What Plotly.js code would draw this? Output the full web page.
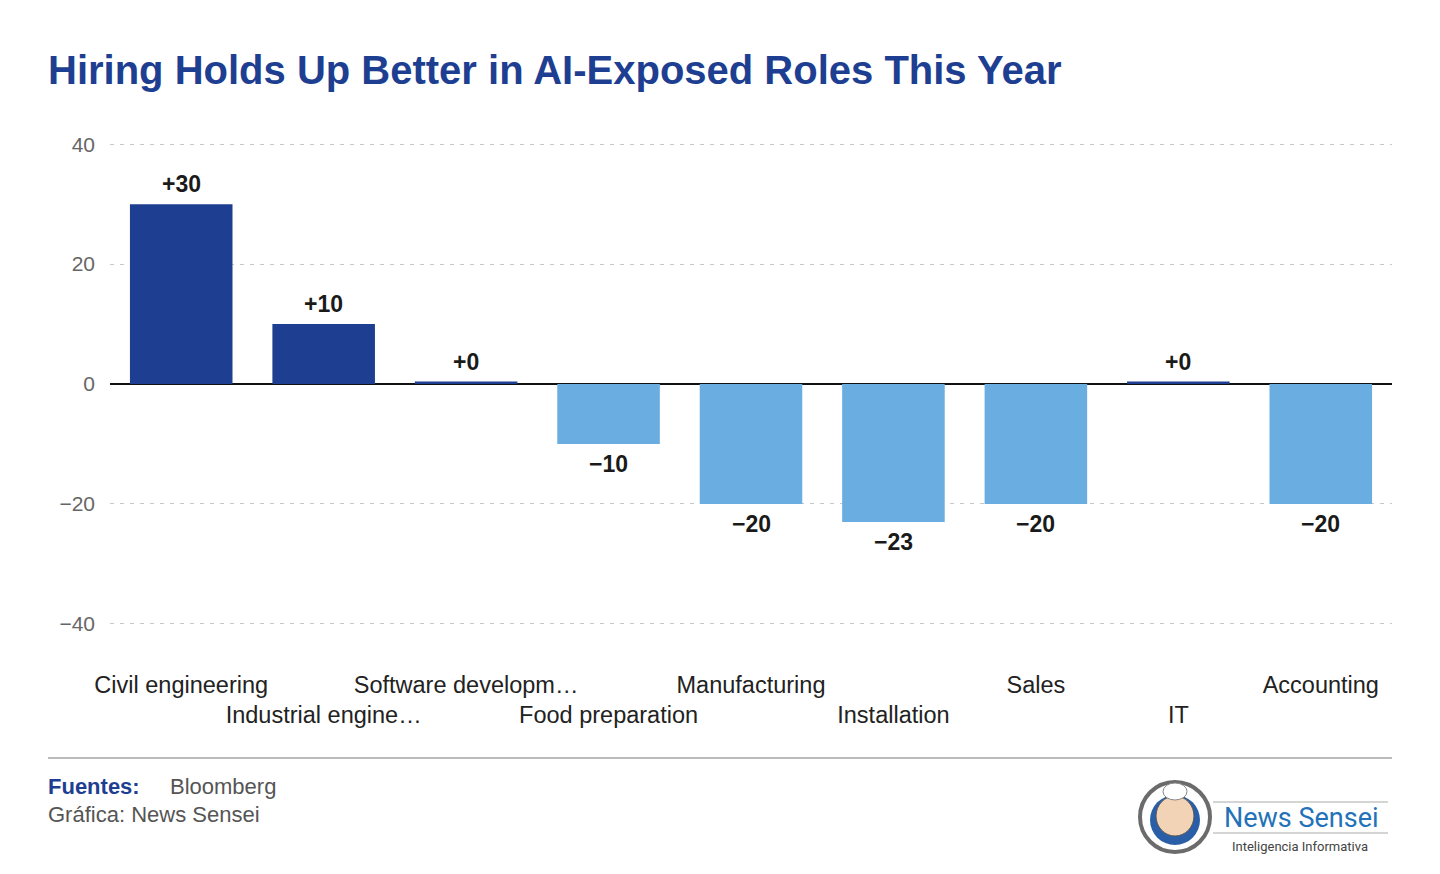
<!DOCTYPE html>
<html>
<head>
<meta charset="utf-8">
<script src="https://cdn.plot.ly/plotly-3.0.1.min.js"></script>
<style>
  html, body { margin: 0; padding: 0; background: #fff; }
  #graph { width: 1440px; height: 874px; }
</style>
</head>
<body>
<div id="graph"></div>
<script>
var roles = ["Civil engineering", "Industrial engineering", "Software development", "Food preparation",
             "Manufacturing", "Installation", "Sales", "IT", "Accounting"]
var tickNames = ["Civil engineering", "Industrial engine…", "Software developm…", "Food preparation",
                 "Manufacturing", "Installation", "Sales", "IT", "Accounting"]
var change = [30, 10, 0.4, -10, -20, -23, -20, 0.4, -20]

var posColor = '#1e3f91'
var negColor = '#6aade0'
var font = 'Liberation Sans, Arial, sans-serif'

function fmt(v) {
    var r = Math.round(v)
    return r >= 0 ? '+' + r : '\u2212' + Math.abs(r)
}

var colors = change.map(function (v) { return v >= 0 ? posColor : negColor })

// alternate the labels onto two rows, like the original
var ticktext = tickNames.map(function (t, i) { return i % 2 == 0 ? t : '<br>' + t })

var annotations = change.map(function (v, i) {
    return {
        x: roles[i], y: v, xref: 'x', yref: 'y',
        text: '<b>' + fmt(v) + '</b>',
        showarrow: false,
        yanchor: v >= 0 ? 'bottom' : 'top',
        yshift: v >= 0 ? 5 : -5,
        font: { family: font, size: 23, color: '#1a1a1a' }
    }
})

// pixel -> paper helpers (plot area 110..1392 x 143..625)
function px(x) { return (x - 110) / 1282 }
function py(y) { return (625 - y) / 482 }

// footer texts
annotations.push({
    xref: 'paper', yref: 'paper', xanchor: 'left', yanchor: 'middle',
    x: px(46), y: py(786),
    text: '<b>Fuentes:</b>', showarrow: false,
    font: { family: font, size: 22, color: '#1e3f91' }
})
annotations.push({
    xref: 'paper', yref: 'paper', xanchor: 'left', yanchor: 'middle',
    x: px(168), y: py(786),
    text: 'Bloomberg', showarrow: false,
    font: { family: font, size: 22, color: '#555' }
})
annotations.push({
    xref: 'paper', yref: 'paper', xanchor: 'left', yanchor: 'middle',
    x: px(46), y: py(814),
    text: 'Gráfica: News Sensei', showarrow: false,
    font: { family: font, size: 22, color: '#555' }
})
// logo texts
annotations.push({
    xref: 'paper', yref: 'paper', xanchor: 'center', yanchor: 'middle',
    x: px(1301), y: py(818),
    text: 'News Sensei', showarrow: false,
    font: { family: 'Roboto, sans-serif', size: 27, color: '#2372b9' }
})
annotations.push({
    xref: 'paper', yref: 'paper', xanchor: 'center', yanchor: 'middle',
    x: px(1300), y: py(846),
    text: 'Inteligencia Informativa', showarrow: false,
    font: { family: 'Roboto, sans-serif', size: 13, color: '#444' }
})

var shapes = [
    // footer rule
    { type: 'line', xref: 'paper', yref: 'paper', x0: px(48), x1: px(1392), y0: py(758), y1: py(758),
      line: { color: '#bbbbbb', width: 2 } },
    // logo rules
    { type: 'line', xref: 'paper', yref: 'paper', x0: px(1213), x1: px(1388), y0: py(802), y1: py(802),
      line: { color: '#aaaaaa', width: 1 } },
    { type: 'line', xref: 'paper', yref: 'paper', x0: px(1213), x1: px(1388), y0: py(833), y1: py(833),
      line: { color: '#aaaaaa', width: 1 } },
    // logo badge
    { type: 'circle', xref: 'paper', yref: 'paper', x0: px(1140), x1: px(1210), y0: py(852), y1: py(782),
      line: { color: '#6b6b6b', width: 4 }, fillcolor: '#ffffff' },
    { type: 'circle', xref: 'paper', yref: 'paper', x0: px(1150), x1: px(1200), y0: py(845), y1: py(795),
      line: { width: 0 }, fillcolor: '#2a5fa8' },
    { type: 'circle', xref: 'paper', yref: 'paper', x0: px(1156), x1: px(1194), y0: py(836), y1: py(796),
      line: { color: '#555', width: 1 }, fillcolor: '#f3d3b6' },
    { type: 'circle', xref: 'paper', yref: 'paper', x0: px(1163), x1: px(1187), y0: py(800), y1: py(783),
      line: { color: '#888', width: 1 }, fillcolor: '#ffffff' }
]

var trace = {
    type: 'bar',
    x: roles,
    y: change,
    marker: { color: colors },
    hoverinfo: 'x+y',
    cliponaxis: false
}

var layout = {
    width: 1440,
    height: 874,
    paper_bgcolor: '#ffffff',
    plot_bgcolor: '#ffffff',
    showlegend: false,
    bargap: 0.28,
    font: { family: font, size: 21, color: '#222' },
    margin: { l: 110, r: 48, t: 143, b: 249 },
    title: {
        text: '<b>Hiring Holds Up Better in AI-Exposed Roles This Year</b>',
        xref: 'container', x: 48 / 1440, xanchor: 'left',
        yref: 'container', y: 1 - 70 / 874, yanchor: 'middle',
        font: { family: font, size: 40, color: '#1e3f91' }
    },
    xaxis: {
        type: 'category',
        tickmode: 'array',
        tickvals: roles,
        ticktext: ticktext,
        tickangle: 0,
        tickfont: { family: font, size: 23.5, color: '#222' },
        ticks: '',
        showgrid: false,
        showline: false,
        zeroline: false,
        ticklabelstandoff: 43,
        fixedrange: true
    },
    yaxis: {
        range: [-40.2, 40.2],
        tickvals: [-40, -20, 0, 20, 40],
        ticktext: ['\u221240', '\u221220', '0', '20', '40'],
        tickfont: { family: font, size: 21, color: '#666' },
        showgrid: true,
        gridcolor: '#c8c8c8',
        griddash: '4px,6px',
        gridwidth: 1,
        zeroline: true,
        zerolinecolor: '#111111',
        zerolinewidth: 2,
        showline: false,
        ticks: '',
        ticklabelstandoff: 14,
        fixedrange: true
    },
    annotations: annotations,
    shapes: shapes
}

Plotly.newPlot('graph', [trace], layout, { displayModeBar: false, staticPlot: true })
</script>
</body>
</html>
